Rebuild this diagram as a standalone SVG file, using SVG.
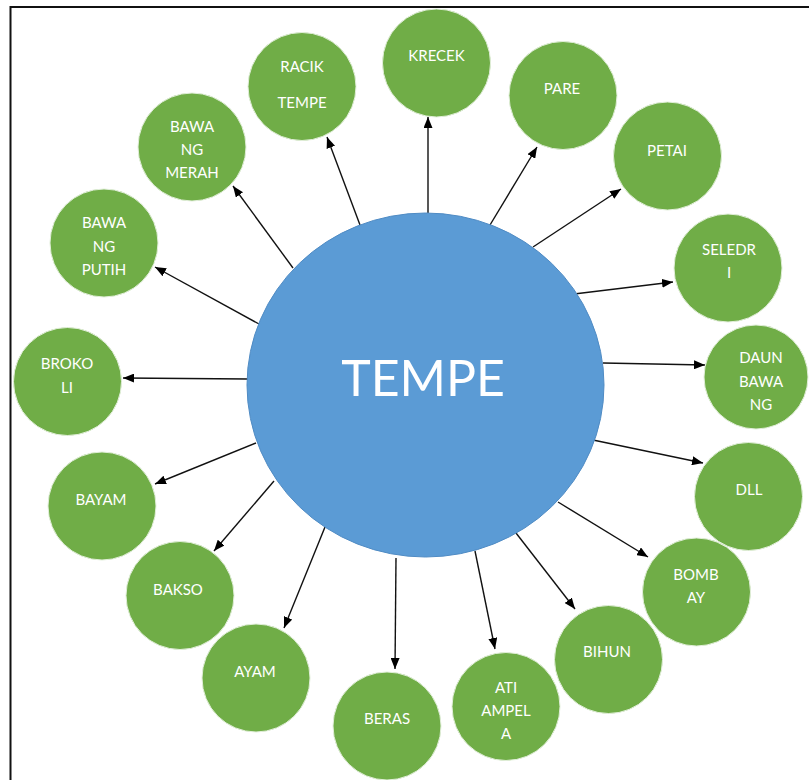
<svg xmlns="http://www.w3.org/2000/svg" width="809" height="780" viewBox="0 0 809 780">
<defs>
<style>
.leaf{fill:#70AD47;stroke:#E2EFDA;stroke-width:1}
.lt{fill:#ffffff;font-family:Lato,"Open Sans",sans-serif;font-size:15px;text-anchor:middle}
.conn line{stroke:#111;stroke-width:1.4;marker-end:url(#ah)}
</style>
<marker id="ah" markerUnits="userSpaceOnUse" markerWidth="11" markerHeight="9" refX="11" refY="4.5" orient="auto">
<path d="M0,0 L11,4.5 L0,9 z" fill="#000"/>
</marker>
</defs>
<rect width="809" height="780" fill="#ffffff"/>
<rect x="10.5" y="7" width="820" height="800" fill="none" stroke="#111" stroke-width="2"/>

<g id="connectors" class="conn">
<line x1="360" y1="225" x2="327" y2="137"/>
<line x1="293" y1="268" x2="233" y2="186"/>
<line x1="259" y1="324" x2="155" y2="267"/>
<line x1="248" y1="379" x2="123" y2="378"/>
<line x1="256" y1="443" x2="155" y2="484"/>
<line x1="274" y1="481" x2="214" y2="551"/>
<line x1="325" y1="527" x2="284" y2="628"/>
<line x1="396" y1="558" x2="395" y2="669"/>
<line x1="475" y1="551" x2="495" y2="649"/>
<line x1="516" y1="533" x2="575" y2="609"/>
<line x1="558" y1="502" x2="648" y2="557"/>
<line x1="593" y1="440" x2="703" y2="463"/>
<line x1="603" y1="363" x2="705" y2="365"/>
<line x1="574" y1="294" x2="673" y2="282"/>
<line x1="533" y1="247" x2="621" y2="189"/>
<line x1="490" y1="225" x2="537" y2="147"/>
<line x1="428" y1="213" x2="428" y2="117"/>
</g>

<g id="tempe">
<ellipse cx="425.5" cy="385" rx="178.5" ry="172" fill="#5B9BD5" stroke="#4F8BC4" stroke-width="1"/>
<text x="423" y="396" fill="#ffffff" font-family="Lato,'Open Sans',sans-serif" font-size="50" text-anchor="middle">TEMPE</text>
</g>

<g id="racik-tempe"><circle class="leaf" cx="302" cy="86.5" r="54"/><text class="lt" x="302" y="72">RACIK</text><text class="lt" x="302" y="108">TEMPE</text></g>
<g id="bawang-merah"><circle class="leaf" cx="192" cy="147" r="54"/><text class="lt" x="192" y="132">BAWA</text><text class="lt" x="192" y="155">NG</text><text class="lt" x="192" y="178">MERAH</text></g>
<g id="bawang-putih"><circle class="leaf" cx="104" cy="243" r="54"/><text class="lt" x="104" y="228">BAWA</text><text class="lt" x="104" y="252">NG</text><text class="lt" x="104" y="275">PUTIH</text></g>
<g id="brokoli"><circle class="leaf" cx="67.5" cy="381.5" r="54"/><text class="lt" x="67" y="369">BROKO</text><text class="lt" x="67" y="393">LI</text></g>
<g id="bayam"><circle class="leaf" cx="102" cy="506" r="54"/><text class="lt" x="101" y="505">BAYAM</text></g>
<g id="bakso"><circle class="leaf" cx="180" cy="595.5" r="54"/><text class="lt" x="178" y="595">BAKSO</text></g>
<g id="ayam"><circle class="leaf" cx="256" cy="678" r="54"/><text class="lt" x="255" y="677">AYAM</text></g>
<g id="beras"><circle class="leaf" cx="387" cy="726" r="54"/><text class="lt" x="387" y="724">BERAS</text></g>
<g id="ati-ampela"><circle class="leaf" cx="506" cy="706.5" r="54"/><text class="lt" x="506" y="693">ATI</text><text class="lt" x="506" y="716">AMPEL</text><text class="lt" x="506" y="739">A</text></g>
<g id="bihun"><circle class="leaf" cx="608.5" cy="659.5" r="54"/><text class="lt" x="607" y="657">BIHUN</text></g>
<g id="bombay"><circle class="leaf" cx="696.5" cy="592" r="54"/><text class="lt" x="696" y="580">BOMB</text><text class="lt" x="696" y="603">AY</text></g>
<g id="dll"><circle class="leaf" cx="748.5" cy="496.5" r="54"/><text class="lt" x="749" y="495">DLL</text></g>
<g id="daun-bawang"><circle class="leaf" cx="756" cy="377" r="52"/><text class="lt" x="761" y="363">DAUN</text><text class="lt" x="761" y="387">BAWA</text><text class="lt" x="761" y="410">NG</text></g>
<g id="seledri"><circle class="leaf" cx="728" cy="268" r="54"/><text class="lt" x="729" y="255">SELEDR</text><text class="lt" x="729" y="278">I</text></g>
<g id="petai"><circle class="leaf" cx="667.5" cy="156" r="54"/><text class="lt" x="667" y="156">PETAI</text></g>
<g id="pare"><circle class="leaf" cx="563" cy="95.5" r="54"/><text class="lt" x="562" y="94">PARE</text></g>
<g id="krecek"><circle class="leaf" cx="436.5" cy="63" r="54"/><text class="lt" x="436.5" y="61">KRECEK</text></g>
</svg>
